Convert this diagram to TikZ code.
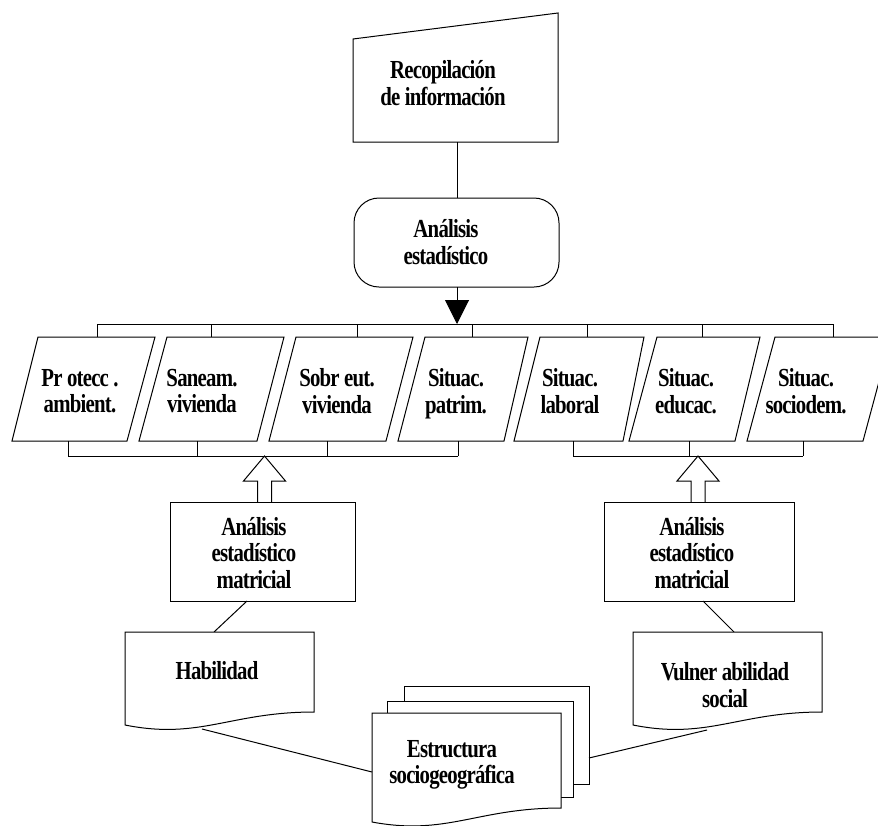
\documentclass[tikz,border=0pt]{standalone}
\usepackage{fontspec}
\setmainfont{Liberation Serif}[FakeStretch=0.8, LetterSpace=-3]
\usetikzlibrary{arrows.meta}
\begin{document}
\begin{tikzpicture}[x=1pt,y=-1pt,
  lbl/.style={font=\bfseries\fontsize{26}{26.5}\selectfont, align=center, inner sep=0pt},
  shp/.style={draw=black, fill=white, line width=1pt},
  conn/.style={draw=black, line width=1pt},
  para/.style={shp}]
\useasboundingbox (0,0) rectangle (878,825);
\clip (0,0) rectangle (878,825);

% ---------- top: manual input ----------
\draw[shp] (353,142) -- (558,142) -- (558,13) -- (353,39) -- cycle;
\node[lbl] (rec) at (443,83) {Recopilación\\de información};
\coordinate (recB) at (457,142);

% ---------- analysis (rounded) ----------
\draw[shp, rounded corners=25pt] (354,198) rectangle (559,287);
\node[lbl] (ana) at (446,242) {Análisis\\estadístico};
\coordinate (anaT) at (457,198);
\coordinate (anaB) at (457,287);
\draw[conn] (recB) -- (anaT);

% ---------- top bar ----------
\coordinate (barL) at (97,324);
\coordinate (barR) at (833,324);
\draw[conn] (barL) -- (barR);
\foreach \x in {97,211,357,472,587,702,833}
  \draw[conn] (\x,324) -- (\x,337);
\draw[conn, -{Triangle[length=24pt,width=24pt]}] (anaB) -- (457,324);

% ---------- parallelograms ----------
\draw[para] (38,337) -- (155,337) -- (127,441) -- (12,441) -- cycle;
\draw[para] (167,337) -- (284,337) -- (257,441) -- (139,441) -- cycle;
\draw[para] (296,337) -- (413,337) -- (386,441) -- (269,441) -- cycle;
\draw[para] (425,337) -- (528,337) -- (504,441) -- (398,441) -- cycle;
\draw[para] (540,337) -- (644,337) -- (623,441) -- (514,441) -- cycle;
\draw[para] (657,337) -- (760,337) -- (735,441) -- (629,441) -- cycle;
\draw[para] (775,337) -- (891,337) -- (863,441) -- (747,441) -- cycle;

\node[lbl] (p1) at (80,391) {Pr otecc .\\ambient.};
\node[lbl] (p2) at (202,391) {Saneam.\\vivienda};
\node[lbl] (p3) at (337,391) {Sobr eut.\\vivienda};
\node[lbl] (p4) at (456,393.5) {Situac.\\patrim.};
\node[lbl] (p5) at (570,391) {Situac.\\laboral};
\node[lbl] (p6) at (686,391) {Situac.\\educac.};
\node[lbl] (p7) at (806,391) {Situac.\\sociodem.};

% ---------- bottom bars ----------
\draw[conn] (68,456) -- (458,456);
\foreach \x in {68,197,327,458}
  \draw[conn] (\x,441) -- (\x,456);
\draw[conn] (573,456) -- (803,456);
\foreach \x in {573,689,803}
  \draw[conn] (\x,441) -- (\x,456);

% ---------- hollow block arrows ----------
\foreach \c in {264.5,698}
  \draw[shp, line join=miter] (\c-7,502) -- (\c-7,481) -- (\c-21,481) -- (\c,456)
     -- (\c+21,481) -- (\c+7,481) -- (\c+7,502);

% ---------- matricial boxes ----------
\draw[shp] (170,502) rectangle (355,601);
\node[lbl] (m1) at (254,553) {Análisis\\estadístico\\matricial};
\draw[shp] (604,502) rectangle (794,601);
\node[lbl] (m2) at (692,553) {Análisis\\estadístico\\matricial};

\coordinate (m1B) at (247,601);
\coordinate (m2B) at (703,601);
\coordinate (habT) at (214,632);
\coordinate (vulT) at (734,632);
\draw[conn] (m1B) -- (habT);
\draw[conn] (m2B) -- (vulT);

% ---------- document shapes ----------
\draw[shp] (125,632) -- (314,632) -- (314,712) .. controls (230,712) and (200,740) .. (125,725) -- cycle;
\node[lbl] (hab) at (217,671) {Habilidad};
\draw[shp] (633,632) -- (822,632) -- (822,712) .. controls (738,712) and (708,740) .. (633,725) -- cycle;
\node[lbl] (vul) at (725,685) {Vulner abilidad\\social};

% ---------- stacked documents ----------
\draw[shp] (404,686) rectangle (589,784);
\draw[shp] (387,701) rectangle (573,797);
\draw[shp] (372,713) -- (561,713) -- (561,808) .. controls (477,808) and (447,836) .. (372,822) -- cycle;
\node[lbl] (est) at (452,765) {Estructura\\sociogeográfica};

\coordinate (habW) at (202,729);
\coordinate (estL) at (372,772);
\coordinate (vulW) at (707,730);
\coordinate (estR) at (589,758);
\draw[conn] (habW) -- (estL);
\draw[conn] (vulW) -- (estR);
\end{tikzpicture}
\end{document}
